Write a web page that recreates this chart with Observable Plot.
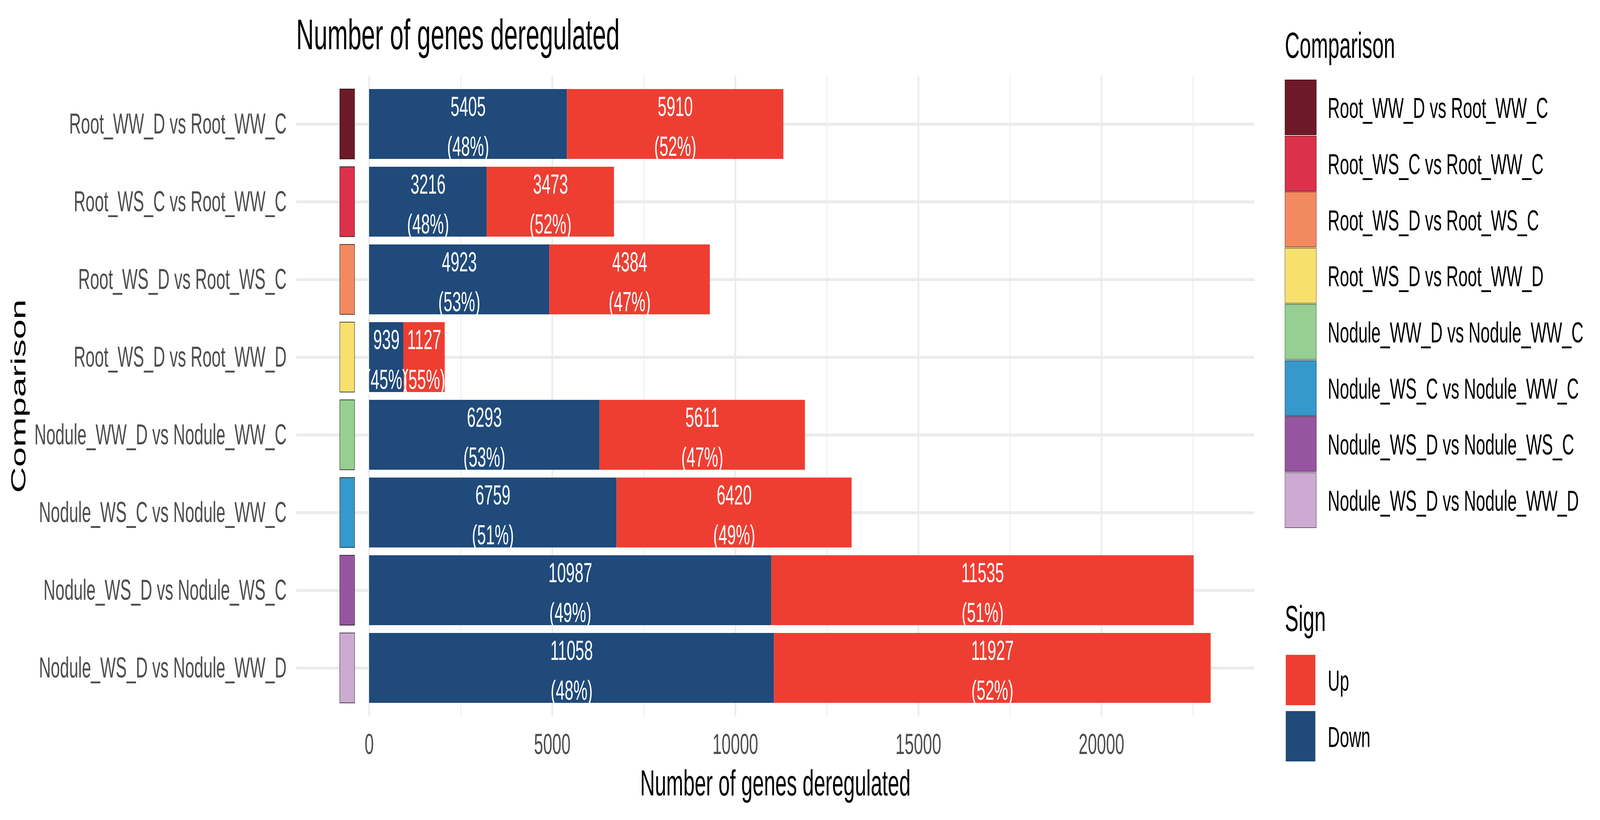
<!DOCTYPE html>
<html><head><meta charset="utf-8">
<script src="https://cdn.jsdelivr.net/npm/d3@7"></script>
<script src="https://cdn.jsdelivr.net/npm/@observablehq/plot@0.6"></script>
<style>
html,body{margin:0;padding:0;background:#fff;overflow:hidden;}
#page{width:7200px;height:2100px;position:relative;font-family:"Liberation Sans",Arial,sans-serif;background:#fff;transform-origin:0 0;}
#title{position:absolute;left:1333px;top:33px;height:110px;font-size:110px;line-height:110px;color:#000;white-space:nowrap;}
#chart{position:absolute;left:0;top:194px;}
#legend{position:absolute;left:5700px;top:0;width:1500px;height:2100px;}
.lt{position:absolute;left:82px;font-size:92px;line-height:92px;white-space:nowrap;color:#000;}
.key{position:absolute;box-sizing:border-box;}
.lab{position:absolute;left:275px;font-size:75px;white-space:nowrap;color:#000;}
</style></head><body>
<div id="page">
<div id="title">Number of genes deregulated</div>
<div id="chart"></div>
<div id="legend"></div>
</div>
<script>
// ---- data ----
const comparisons = [
  "Root_WW_D vs Root_WW_C",
  "Root_WS_C vs Root_WW_C",
  "Root_WS_D vs Root_WS_C",
  "Root_WS_D vs Root_WW_D",
  "Nodule_WW_D vs Nodule_WW_C",
  "Nodule_WS_C vs Nodule_WW_C",
  "Nodule_WS_D vs Nodule_WS_C",
  "Nodule_WS_D vs Nodule_WW_D"
];
const downCounts = [5405, 3216, 4923, 939, 6293, 6759, 10987, 11058];
const upCounts   = [5910, 3473, 4384, 1127, 5611, 6420, 11535, 11927];
const downPct = [48, 48, 53, 45, 53, 51, 49, 48];
const upPct   = [52, 52, 47, 55, 47, 49, 51, 52];
const comparisonColors = ["#6E1927", "#DC314B", "#F38A5F", "#F7E06E", "#97CF92", "#3698CB", "#96569F", "#CDAAD2"];
const signs = ["Up", "Down"];
const signColors = ["#EE3E32", "#1F4A7A"];
const xTicks = [0, 5000, 10000, 15000, 20000];
const xMinorTicks = [2500, 7500, 12500, 17500, 22500];
const xDomain = [-1990, 24175];
const stripFrom = -800, stripTo = -395;

// ---- table built from the arrays ----
const signColor = s => signColors[signs.indexOf(s)];
const rows = [];
comparisons.forEach((c, i) => {
  rows.push({comparison: c, sign: "Down", value: downCounts[i], pct: downPct[i]});
  rows.push({comparison: c, sign: "Up", value: upCounts[i], pct: upPct[i]});
});

const FONT = '"Liberation Sans", Arial, sans-serif';
const chart = Plot.plot({
  width: 5700,
  height: 1906,
  marginTop: 0,
  marginBottom: 266,
  marginLeft: 1333,
  marginRight: 56,
  style: {fontFamily: FONT, background: "white", overflow: "visible"},
  x: {domain: xDomain, label: null},
  y: {domain: comparisons, paddingInner: 0.1, paddingOuter: 0.15, label: null},
  color: {type: "identity"},
  marks: [
    Plot.gridX(xMinorTicks, {stroke: "#EBEBEB", strokeOpacity: 1, strokeWidth: 3.8}),
    Plot.gridX(xTicks, {stroke: "#EBEBEB", strokeOpacity: 1, strokeWidth: 7.5}),
    Plot.gridY(comparisons, {stroke: "#EBEBEB", strokeOpacity: 1, strokeWidth: 7.5}),
    Plot.barX(comparisons, {x1: stripFrom, x2: stripTo, y: d => d, fill: (d, i) => comparisonColors[i], stroke: "black", strokeWidth: 1.4}),
    Plot.barX(rows, Plot.stackX({x: "value", y: "comparison", z: "sign", fill: d => signColor(d.sign)})),
    Plot.text(rows, Plot.stackX({
      x: "value", y: "comparison", z: "sign",
      text: d => `${d.value}\n(${d.pct}%)`,
      fill: "white", fontSize: 71, lineHeight: 1.44, lineAnchor: "middle", dy: -3
    })),
    Plot.axisX({ticks: xTicks, tickSize: 0, tickPadding: 43.5, fontSize: 74, fill: "#4D4D4D", label: null, tickFormat: "d"}),
    Plot.axisY({tickSize: 0, tickPadding: 44, fontSize: 74, fill: "#4D4D4D", label: null}),
    Plot.text(["Comparison"], {frameAnchor: "left", dx: -1249.4, rotate: -90, fontSize: 92, fill: "black", textAnchor: "middle", lineAnchor: "middle"}),
    Plot.text(["Number of genes deregulated"], {frameAnchor: "bottom", dy: 172.6, fontSize: 92, fill: "black", textAnchor: "middle", lineAnchor: "middle"})
  ]
});
document.getElementById("chart").appendChild(chart);

// ---- legends ----
const legend = document.getElementById("legend");
function add(cls, text, css) {
  const d = document.createElement("div");
  d.className = cls;
  if (text) d.textContent = text;
  Object.assign(d.style, css);
  legend.appendChild(d);
  return d;
}
add("lt", "Comparison", {top: "70px"});
const rowH = 143.7;
comparisons.forEach((c, i) => {
  const top = 204 + i * rowH;
  add("key", "", {left: "82px", top: top + "px", width: "142px", height: "142px", background: comparisonColors[i], border: "1.4px solid #000"});
  add("lab", c, {top: (top + 71 - rowH / 2 + 2) + "px", height: rowH + "px", lineHeight: rowH + "px"});
});
add("lt", "Sign", {top: "1538px"});
signs.forEach((s, j) => {
  const top = 1670 + j * rowH;
  add("key", "", {left: "86px", top: (top + 7) + "px", width: "133px", height: "129px", background: signColors[j]});
  add("lab", s, {top: (top + 2) + "px", height: rowH + "px", lineHeight: rowH + "px"});
});

// ---- fit the 7200x2100 design to the window the page is given ----
const page = document.getElementById("page");
const sx = Math.min(1, window.innerWidth / 7200);
const sy = Math.min(1, window.innerHeight / 2100);
page.style.transform = `scale(${sx}, ${sy})`;
document.body.style.width = (7200 * sx) + "px";
document.body.style.height = (2100 * sy) + "px";
</script>
</body></html>
